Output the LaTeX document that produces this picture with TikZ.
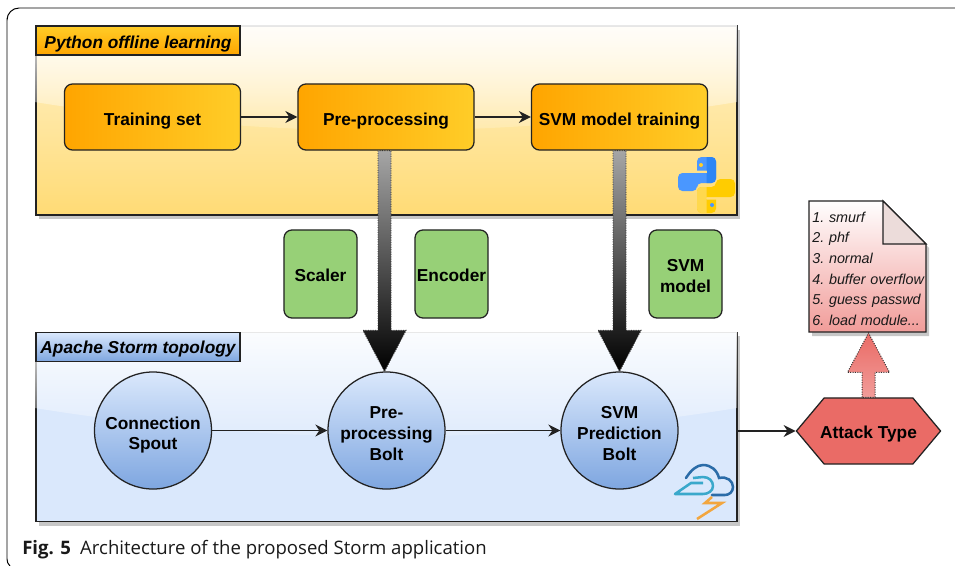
\documentclass[tikz,border=0pt]{standalone}
\usepackage{fontspec}
\setmainfont{Liberation Sans}
\newfontfamily\capfont{Open Sans}
\usetikzlibrary{arrows.meta,calc,fadings,shadows,shapes.symbols}

\definecolor{orangeA}{HTML}{FFA500}
\definecolor{orangeB}{HTML}{FFCD28}
\definecolor{yellowA}{HTML}{FFF2CC}
\definecolor{yellowB}{HTML}{FFDB75}
\definecolor{blueA}{HTML}{DAE8FC}
\definecolor{blueB}{HTML}{7EA6E0}
\definecolor{greenbox}{HTML}{97D077}
\definecolor{redA}{HTML}{F19C99}
\definecolor{redB}{HTML}{EA6B66}
\definecolor{foldcol}{HTML}{ECDCDA}
\definecolor{edge}{HTML}{222222}
\definecolor{pyblueA}{HTML}{4A97FF}
\definecolor{pyblueB}{HTML}{2C85F5}
\definecolor{pyyellowA}{HTML}{FFCC00}
\definecolor{pyyellowB}{HTML}{FFD84D}
\definecolor{cloudcol}{HTML}{2B6CA8}
\definecolor{swooshcol}{HTML}{3AA8CB}
\definecolor{flashcol}{HTML}{F2A63F}

\tikzfading[name=glass, top color=transparent!10, bottom color=transparent!90]

\tikzset{
  txt/.style={font=\fontsize{12.3}{14.8}\selectfont\bfseries, text=black, align=center, inner sep=0pt},
  panel/.style={draw=edge, line width=0.9pt, minimum width=17.525cm, minimum height=4.725cm, inner sep=0pt,
    drop shadow={shadow xshift=0.075cm, shadow yshift=-0.1cm, fill=black, opacity=0.22}},
  tag/.style={txt, font=\fontsize{12.3}{14.8}\selectfont\bfseries\itshape, draw=edge, line width=0.9pt,
    minimum width=5.1cm, minimum height=0.725cm},
  block/.style={txt, draw=edge, line width=0.9pt, rounded corners=0.2cm, minimum width=4.4cm, minimum height=1.65cm,
    left color=orangeA, right color=orangeB},
  model/.style={txt, draw=edge, line width=0.9pt, rounded corners=0.2cm, minimum width=1.825cm, minimum height=2.2cm,
    fill=greenbox},
  bolt/.style={txt, circle, draw=edge, line width=0.9pt, minimum size=2.925cm, top color=blueA, bottom color=blueB},
  flow/.style={->, draw=edge, line width=0.9pt},
  fatarrow/.style={draw=black!80, densely dotted, line width=0.7pt},
}

% strut for the first line of a label, sets the text a little lower
\newcommand{\push}[1]{\rule{0pt}{#1pt}}

% one half of the snake logo
\newcommand{\snake}{[rounded corners=0.11cm] (697,157) -- (716,157) -- (716,183) -- (697,183) -- (697,191) -- (678,191)
  -- (678,173) [sharp corners] -- (707,173) -- (707,170.5) -- (697,170.5) [rounded corners=0.11cm] -- cycle}
\newcommand{\pyhalf}[3]{
  \fill[#1] \snake;
  \begin{scope}
    \clip (706.5,150) rectangle (740,220);
    \fill[#2] \snake;
  \end{scope}
  \fill[#3] (701,165) circle (2);
}

\begin{document}
\begin{tikzpicture}[x=0.025cm, y=-0.025cm, >={Stealth[length=0.3cm,width=0.3cm]}]
\useasboundingbox (0,0) rectangle (955,566);

% Frame
\draw[black, line width=0.7pt, rounded corners=0.3cm] (956,8) -- (7,8) -- (7,30) [sharp corners] -- (7,559) .. controls (7,562) and (8,564) .. (10,566);

% Panels
\node[panel, top color=yellowA, bottom color=yellowB] (python) at (386.5,120.5) {};
\path[fill=white, path fading=glass] (35,25) -- (738,25) -- (738,102) .. controls (504,140) and (270,140) .. (35,102) -- cycle;
\node[panel, fill=blueA] (storm) at (386.5,427) {};
\path[fill=white, path fading=glass] (35,332) -- (738,332) -- (738,408) .. controls (504,446) and (270,446) .. (35,408) -- cycle;

\node[tag, top color=orangeB, bottom color=orangeA] (pylabel) at (138,40.5) {\push{14.6}Python offline learning};
\node[tag, top color=blueA, bottom color=blueB] (stormlabel) at (138,347) {\push{12.4}Apache Storm topology};

% Blocks
\node[block] (trainset) at (152.5,117) {\push{14.6}Training set};
\node[block] (prep) at (386,117) {\push{14.6}Pre-processing};
\node[block] (train) at (619.5,117) {\push{14.6}SVM model training};

\node[model] (scaler) at (320.5,274) {\push{10.3}Scaler};
\node[model] (encoder) at (451.5,274) {\push{10.3}Encoder};
\node[model] (svm) at (685.5,274) {\push{11}SVM\\model};

\node[bolt] (spout) at (153,430.5) {\push{15.3}Connection\\Spout};
\node[bolt] (pbolt) at (386.5,430.5) {\push{12.5}Pre-\\processing\\Bolt};
\node[bolt] (sbolt) at (619.5,430.5) {\push{12.5}SVM\\Prediction\\Bolt};

\node[txt, signal, signal to=west and east, signal pointer angle=100, inner xsep=-0.1cm, draw=edge, line width=0.9pt, fill=redB,
  minimum width=3.425cm, minimum height=1.65cm] (attack) at (868.5,431) {\push{13.2}Attack Type};

% Document
\path[draw=edge, line width=0.9pt, top color=white, bottom color=redA,
  drop shadow={shadow xshift=0.075cm, shadow yshift=-0.1cm, fill=black, opacity=0.22}]
  (809,201) -- (883,201) -- (926,244) -- (926,332) -- (809,332) -- cycle;
\path[draw=edge, line width=0.9pt, fill=foldcol] (883,201) -- (926,244) -- (883,244) -- cycle;
\node[inner sep=0pt, font=\fontsize{10.2}{14.7}\selectfont\itshape\frenchspacing, align=left, anchor=north west, text width=2.925cm,
  minimum height=3.275cm, text=black!90, xshift=0.075cm, yshift=-0.05cm] (attacks) at (809,201) {1. smurf\\2. phf\\3. normal\\4. buffer overflow\\5. guess passwd\\6. load module...};

% Connections
\draw[flow] (trainset) -- (prep);
\draw[flow] (prep) -- (train);
\draw[flow] (spout) -- (pbolt);
\draw[flow] (pbolt) -- (sbolt);
\draw[flow] (storm.east |- attack.west) -- (attack.west);

% Model export arrows
\foreach \src/\dst/\off in {prep/pbolt/-1.5, train/sbolt/0} {
  \path[fatarrow, top color=black!35, bottom color=black]
    ($(\src.south)+(\off-6.5,0)$) -- ($(\src.south |- \dst.north)+(\off-6.5,-41)$) -- ($(\src.south |- \dst.north)+(\off-21.5,-41)$)
    -- ($(\src.south |- \dst.north)+(\off,0)$)
    -- ($(\src.south |- \dst.north)+(\off+21.5,-41)$) -- ($(\src.south |- \dst.north)+(\off+6.5,-41)$) -- ($(\src.south)+(\off+6.5,0)$) -- cycle;
}
\path[fatarrow, top color=redB, bottom color=redA]
  ($(attack.north)+(-6.5,0)$) -- ($(attack.north)+(-6.5,-25)$) -- ($(attack.north)+(-21,-25)$) -- (attack.north |- 0,333)
  -- ($(attack.north)+(21,-25)$) -- ($(attack.north)+(6.5,-25)$) -- ($(attack.north)+(6.5,0)$) -- cycle;

% Python logo
\pyhalf{pyblueA}{pyblueB}{orangeB}
\begin{scope}[rotate around={180:(706.5,185)}]
  \pyhalf{pyyellowA}{pyyellowB}{pyblueA}
\end{scope}

% Storm logo
\draw[line width=1.8pt, cloudcol, line cap=round] (686,478) .. controls (691,470) and (697,465) .. (703,465)
  .. controls (711,465) and (717,470) .. (719,478) .. controls (727,476) and (733,481) .. (733,487) .. controls (733,492) and (729,495) .. (725,495) -- (712,495);
\draw[line width=1.8pt, swooshcol, line join=round] (693,478) -- (703,477) .. controls (709,477) and (713,481) .. (713,486)
  .. controls (713,491) and (708,494) .. (703,494) -- (675,494) -- (691,483) -- (703,483);
\draw[line width=1.8pt, flashcol] (712,497) -- (705,503) -- (722,503) -- (697,519);

% Caption
\node[anchor=base west, inner sep=0pt, font=\capfont\fontsize{13.2}{15}\selectfont, text=black!90] (caption) at (22,554) {\textbf{Fig. 5}\hspace{0.5em}Architecture of the proposed Storm application};
\end{tikzpicture}
\end{document}
